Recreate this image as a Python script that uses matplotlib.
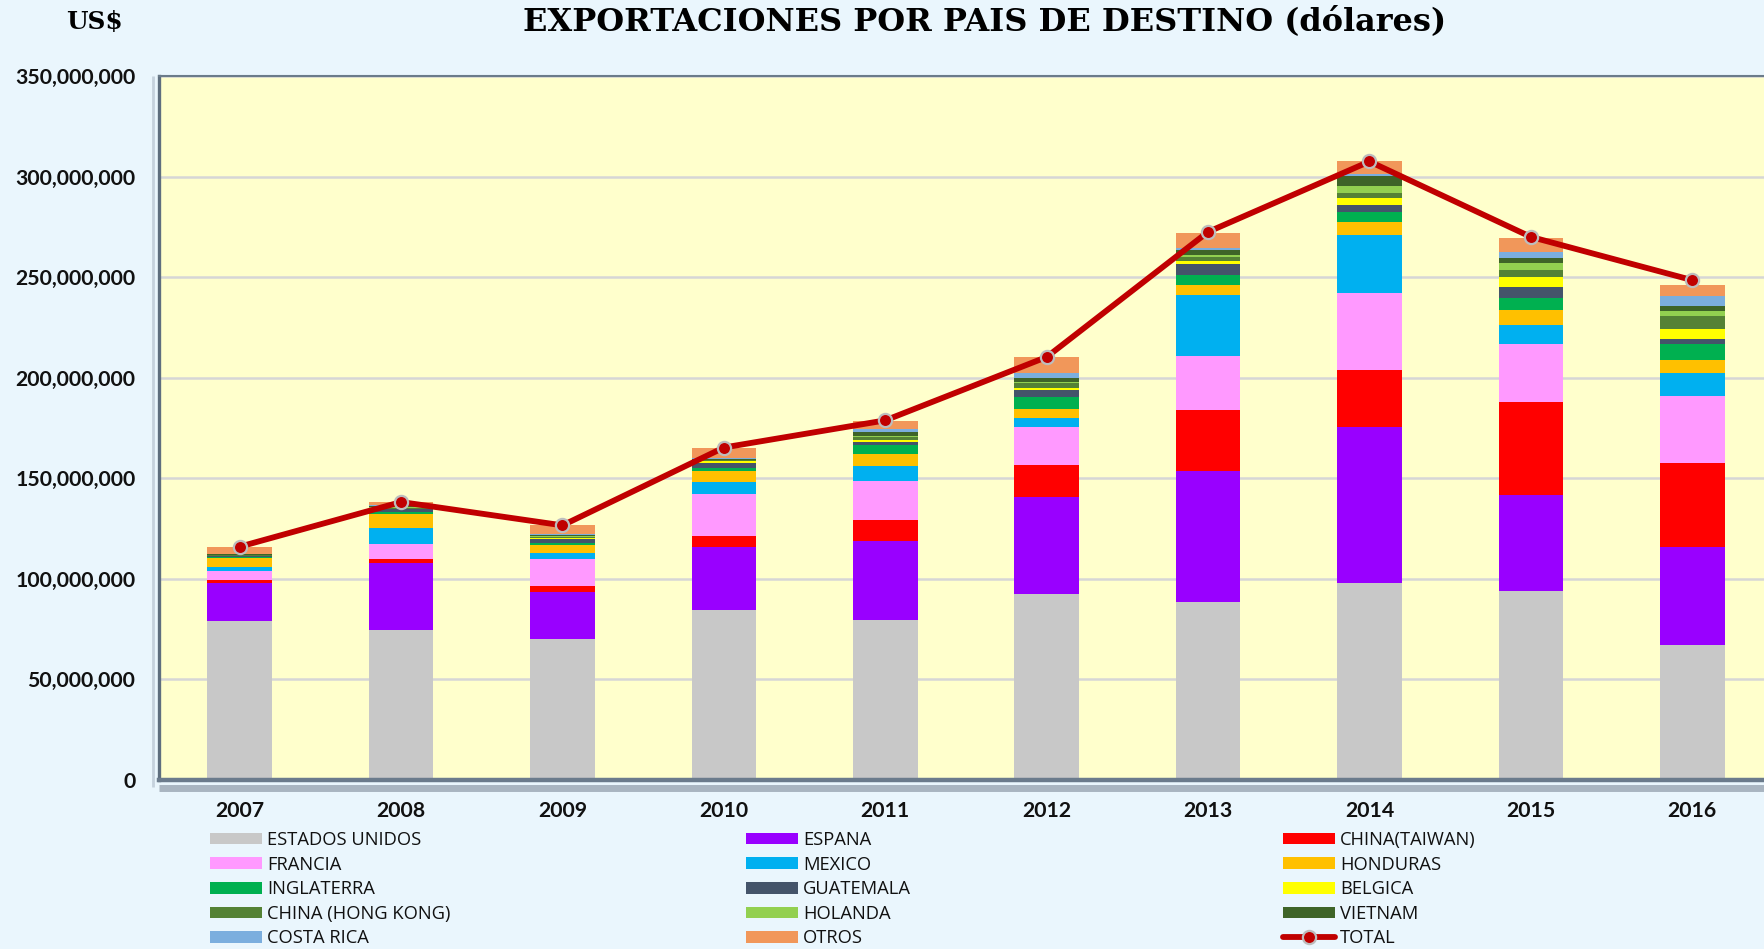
import matplotlib
matplotlib.use("Agg")
import matplotlib.pyplot as plt
import numpy as np
from matplotlib.ticker import FuncFormatter, MultipleLocator
from matplotlib.patches import Patch
from matplotlib.lines import Line2D

# ---------------- data (millions of US$) ----------------
years = ["2007", "2008", "2009", "2010", "2011", "2012", "2013", "2014", "2015", "2016"]

estados_unidos = [79.0, 74.6, 70.2, 84.5, 79.5, 92.7, 88.5, 97.9, 94.1, 67.1]
espana = [19.1, 33.1, 23.4, 31.1, 39.1, 47.8, 65.1, 77.7, 47.5, 48.9]
china_taiwan = [1.1, 2.1, 3.0, 5.5, 10.6, 15.9, 30.4, 28.2, 46.1, 41.7]
francia = [4.8, 7.6, 13.4, 21.2, 19.3, 19.0, 26.6, 38.2, 29.0, 33.1]
mexico = [2.0, 7.7, 2.8, 5.7, 7.7, 4.5, 30.4, 28.9, 9.3, 11.6]
honduras = [4.5, 7.1, 4.0, 5.4, 5.8, 4.3, 5.0, 6.4, 7.6, 6.3]
inglaterra = [0.3, 0.8, 1.2, 1.7, 4.5, 6.0, 5.1, 5.0, 5.8, 8.0]
guatemala = [0.5, 1.5, 2.0, 2.4, 1.5, 3.6, 5.3, 3.5, 5.8, 2.5]
belgica = [0.2, 0.2, 0.2, 0.9, 1.0, 1.1, 1.7, 3.6, 4.9, 4.9]
china_hong_kong = [0.5, 0.6, 0.7, 0.5, 1.6, 2.7, 2.0, 2.5, 3.4, 6.5]
holanda = [0.1, 0.6, 0.2, 0.3, 0.3, 0.3, 0.8, 3.3, 3.3, 2.4]
vietnam = [0.2, 0.2, 0.5, 0.3, 1.9, 2.1, 2.5, 5.0, 2.7, 2.9]
costa_rica = [0.2, 0.6, 0.5, 0.4, 1.5, 2.4, 1.3, 1.3, 3.1, 4.6]
otros = [3.5, 1.5, 4.5, 5.3, 4.3, 8.0, 7.2, 6.0, 7.1, 5.5]
total = [116.0, 138.2, 126.6, 165.3, 178.8, 210.3, 272.5, 307.5, 270.0, 248.5]

series_names = ["ESTADOS UNIDOS", "ESPANA", "CHINA(TAIWAN)", "FRANCIA", "MEXICO",
                "HONDURAS", "INGLATERRA", "GUATEMALA", "BELGICA",
                "CHINA (HONG KONG)", "HOLANDA", "VIETNAM", "COSTA RICA", "OTROS"]
series_values = [estados_unidos, espana, china_taiwan, francia, mexico, honduras,
                 inglaterra, guatemala, belgica, china_hong_kong, holanda, vietnam,
                 costa_rica, otros]
series_colors = ["#C8C8C8", "#9900FF", "#FF0000", "#FF99FF", "#00B0F0", "#FFC000",
                 "#00B050", "#44546A", "#FFFF00", "#548235", "#92D050", "#3E6428",
                 "#7BAEDE", "#F1975A"]

# ---------------- figure ----------------
W, H = 1765, 949
fig = plt.figure(figsize=(W / 100, H / 100), dpi=100)
fig.patch.set_facecolor("#EAF6FD")

ax_left, ax_right = 159 / W, 1773 / W
ax_bottom, ax_top = 1 - 780 / H, 1 - 76 / H
ax = fig.add_axes([ax_left, ax_bottom, ax_right - ax_left, ax_top - ax_bottom])
ax.set_facecolor("#FFFFCC")

x = np.arange(len(years))
bottom = np.zeros(len(years))
handles = []
for name, vals, col in zip(series_names, series_values, series_colors):
    v = np.array(vals) * 1e6
    ax.bar(x, v, width=0.40, bottom=bottom, color=col, linewidth=0, zorder=2)
    bottom += v
    handles.append(Patch(facecolor=col, edgecolor="none", label=name))

line_kw = dict(color="#C00000", linewidth=4.2, marker="o", markersize=9.5,
               markerfacecolor="#C00000", markeredgecolor="#BDBDBD",
               markeredgewidth=1.6, solid_capstyle="round")
ax.plot(x, np.array(total) * 1e6, zorder=4, **line_kw)
total_handle = Line2D([], [], label="TOTAL", **line_kw)

ax.set_xlim(-0.5, len(years) - 0.5)
ax.set_ylim(0, 350e6)
ax.yaxis.set_major_locator(MultipleLocator(50e6))
ax.yaxis.set_major_formatter(FuncFormatter(lambda v, p: f"{v:,.0f}"))
ax.grid(axis="y", color="#D6D6D6", linewidth=1.8, zorder=0)
ax.set_axisbelow(True)
ax.set_xticks(x)
ax.set_xticklabels(years)

ax.tick_params(axis="both", length=0)
ax.tick_params(axis="y", pad=17)
ax.tick_params(axis="x", pad=15)
for lab in ax.get_yticklabels() + ax.get_xticklabels():
    lab.set_fontfamily("Lato")
    lab.set_fontweight("bold")
    lab.set_fontsize(15.3)
    lab.set_color("#111111")

ax.spines["right"].set_visible(False)
ax.spines["top"].set_color("#6B7B8A")
ax.spines["top"].set_linewidth(1.5)
ax.spines["left"].set_color("#5E6E7E")
ax.spines["left"].set_linewidth(2.4)
ax.spines["bottom"].set_color("#6B7B8C")
ax.spines["bottom"].set_linewidth(3.2)

# shadow below / left of the plot frame
ax.plot([0, 1.0], [-0.012, -0.012], transform=ax.transAxes, color="#A9B5C1",
        linewidth=5, clip_on=False, zorder=1, solid_capstyle="butt")
ax.plot([-0.0035, -0.0035], [-0.01, 1.0], transform=ax.transAxes, color="#C5D2DD",
        linewidth=2, clip_on=False, zorder=1, solid_capstyle="butt")

# ---------------- titles ----------------
fig.text(985 / W, 1 - 22 / H, "EXPORTACIONES POR PAIS DE DESTINO (dólares)",
         ha="center", va="center", fontsize=23, family="DejaVu Serif",
         fontweight="bold", color="#000000")
fig.text(94 / W, 1 - 22 / H, "US$", ha="center", va="center", fontsize=17.8,
         family="DejaVu Serif", fontweight="bold", color="#000000")

# ---------------- legend (3 columns, row-major order) ----------------
all_handles = handles + [total_handle]
cols = [all_handles[0::3], all_handles[1::3], all_handles[2::3]]
col_x = [210, 746, 1283]
for hs, cx in zip(cols, col_x):
    leg = fig.legend(handles=hs, loc="upper left", bbox_to_anchor=(cx / W, 1 - 831 / H),
                     frameon=False, borderpad=0, borderaxespad=0, handlelength=2.82,
                     handleheight=0.6, handletextpad=0.3, labelspacing=0.36,
                     prop={"family": "Open Sans", "size": 13.2})
    for t in leg.get_texts():
        t.set_color("#111111")

fig.savefig("out.png", dpi=100, facecolor=fig.get_facecolor())
